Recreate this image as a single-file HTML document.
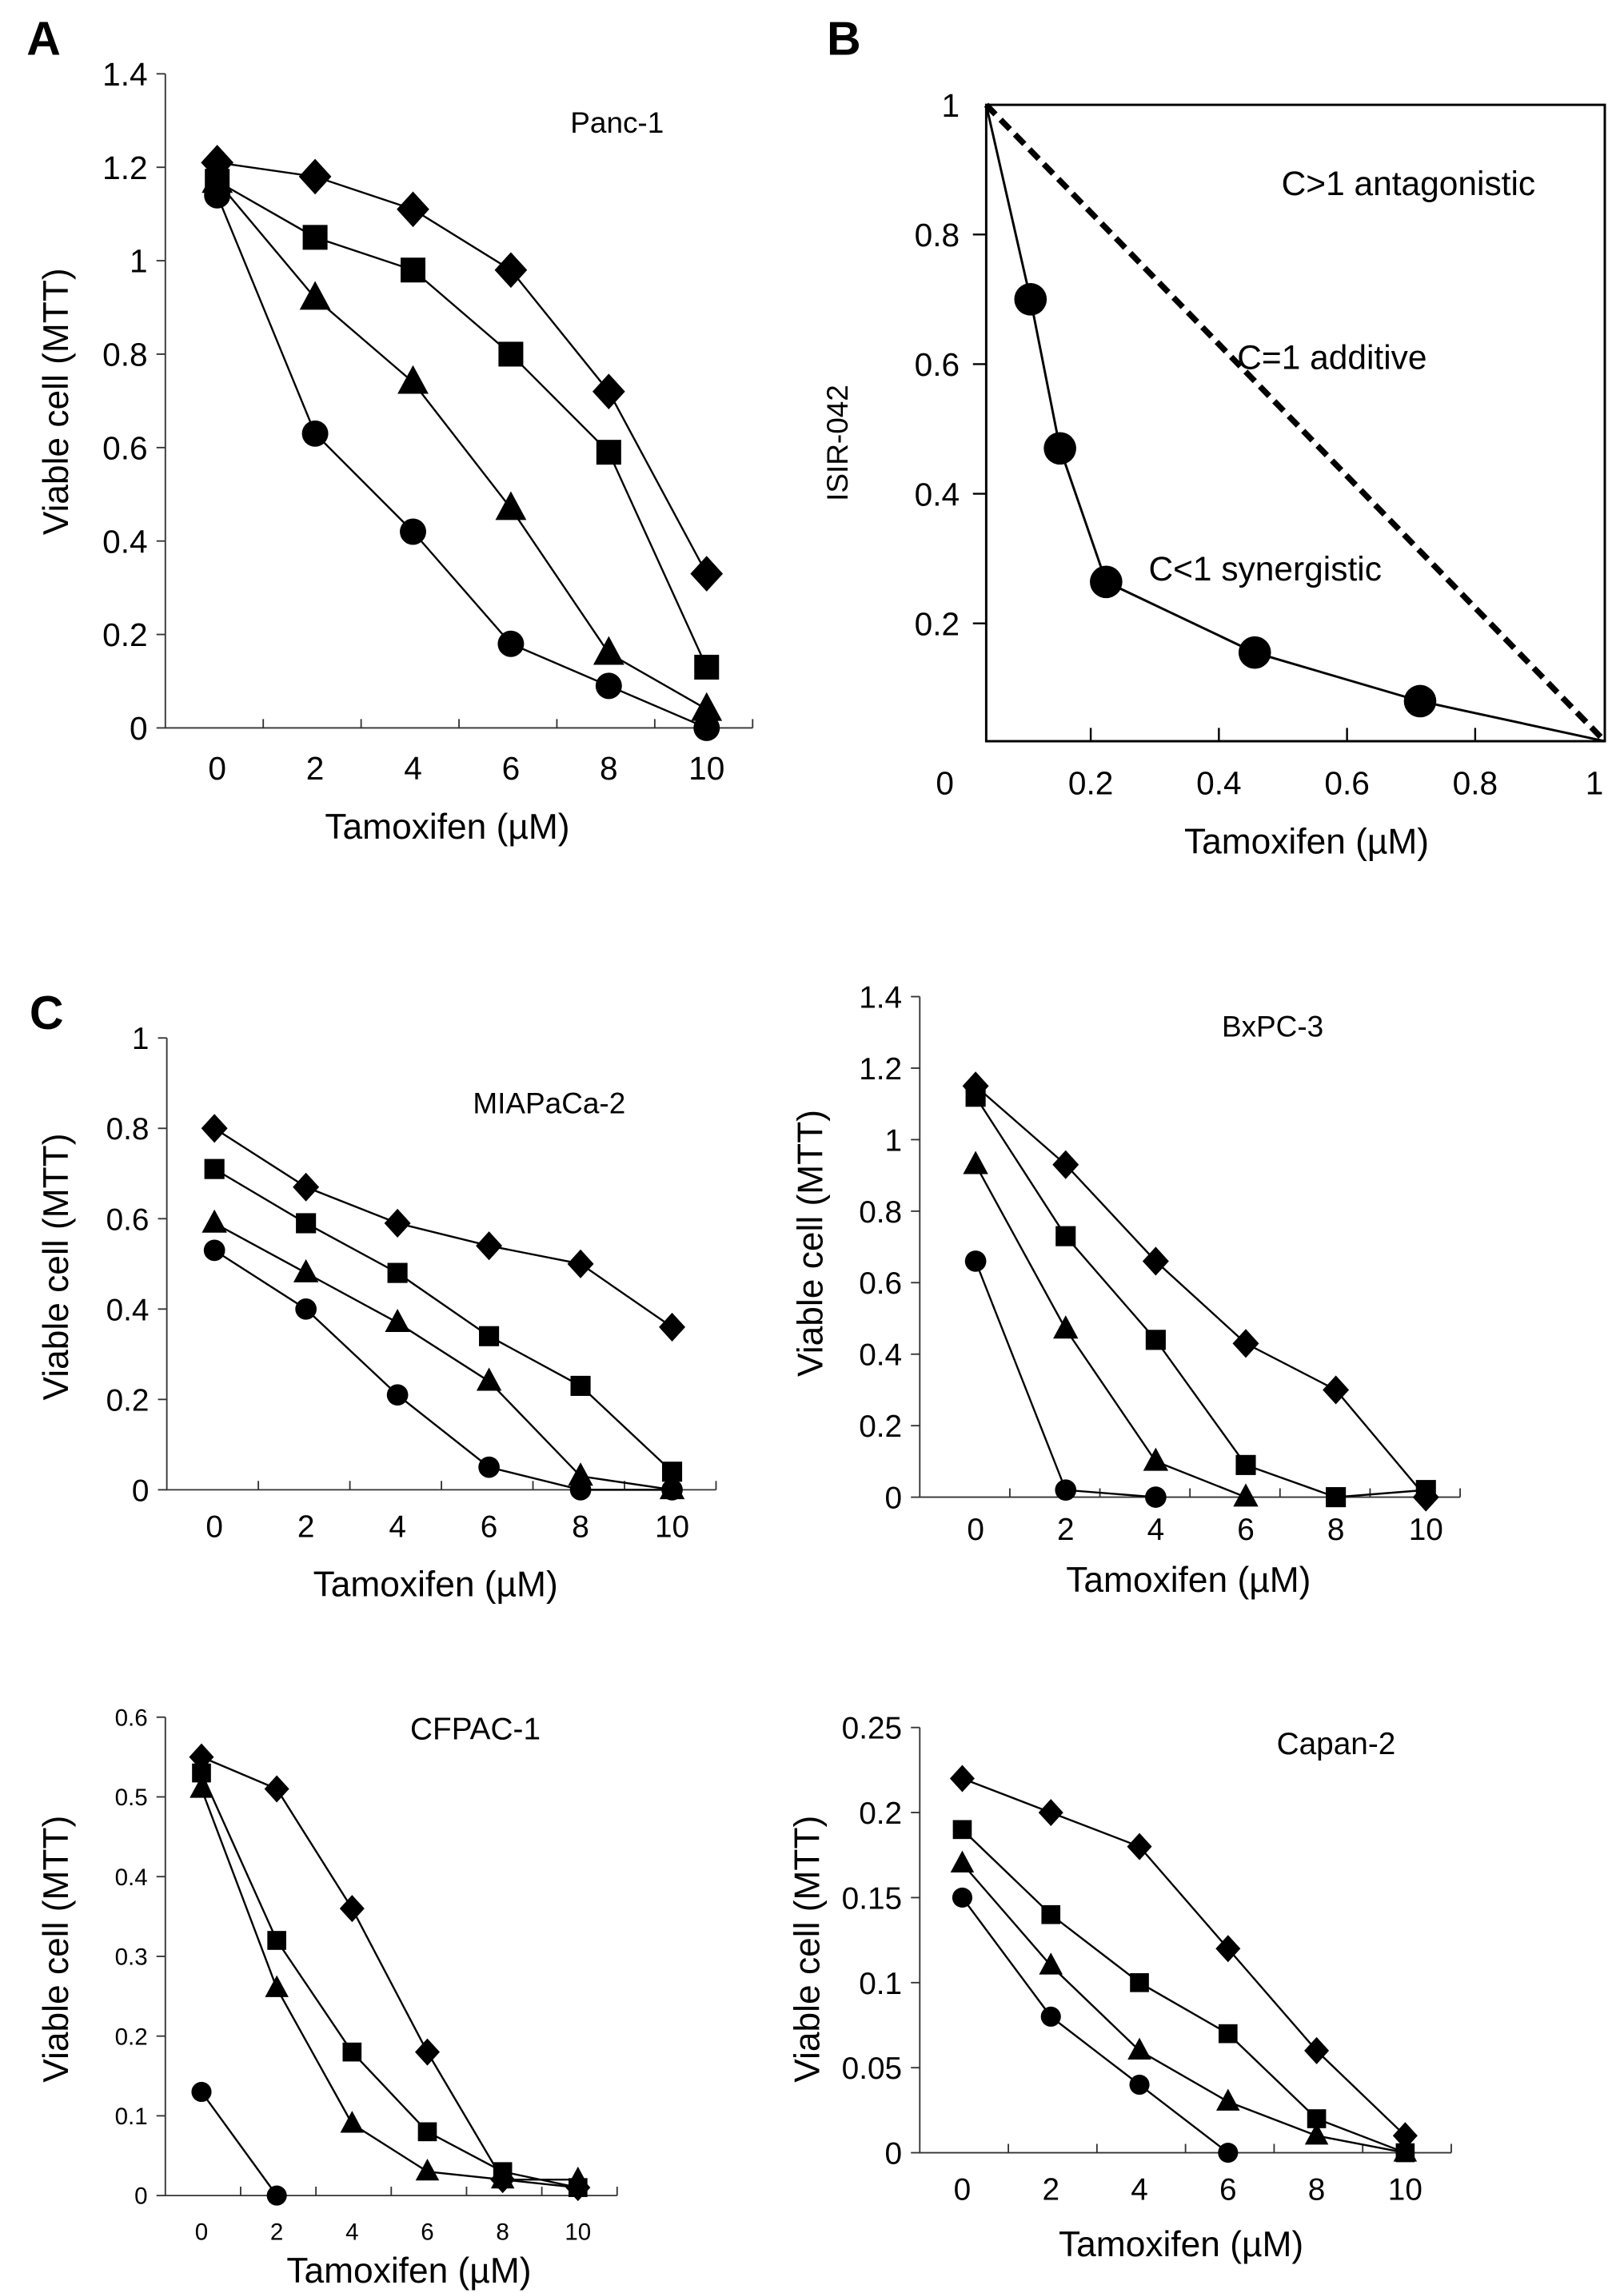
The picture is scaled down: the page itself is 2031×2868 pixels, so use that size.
<!DOCTYPE html>
<html><head><meta charset="utf-8">
<style>
html,body{margin:0;padding:0;background:#fff;}
svg{display:block;font-family:"Liberation Sans",sans-serif;}
</style></head>
<body>
<svg id="fig" width="2031" height="2868" viewBox="0 0 1100 1553" preserveAspectRatio="none" xmlns="http://www.w3.org/2000/svg">
<rect width="1100" height="1553" fill="#fff"/>
<text x="18" y="37" font-size="32" font-weight="bold">A</text>
<text x="560" y="37" font-size="32" font-weight="bold">B</text>
<text x="20" y="697" font-size="32" font-weight="bold">C</text>
</svg>
<script>
// x categories (Tamoxifen µM)
const doses = [0, 2, 4, 6, 8, 10];
// Panc-1
const pancDiamond = [1.21, 1.18, 1.11, 0.98, 0.72, 0.33];
const pancSquare = [1.17, 1.05, 0.98, 0.80, 0.59, 0.13];
const pancTriangle = [1.17, 0.92, 0.74, 0.47, 0.16, 0.04];
const pancCircle = [1.14, 0.63, 0.42, 0.18, 0.09, 0.0];
const pancTicks = [0, 0.2, 0.4, 0.6, 0.8, 1, 1.2, 1.4];
const pancTickLabels = ["0", "0.2", "0.4", "0.6", "0.8", "1", "1.2", "1.4"];
// MIAPaCa-2
const miaDiamond = [0.80, 0.67, 0.59, 0.54, 0.50, 0.36];
const miaSquare = [0.71, 0.59, 0.48, 0.34, 0.23, 0.04];
const miaTriangle = [0.59, 0.48, 0.37, 0.24, 0.03, 0.0];
const miaCircle = [0.53, 0.40, 0.21, 0.05, 0.0, 0.0];
const miaTicks = [0, 0.2, 0.4, 0.6, 0.8, 1];
const miaTickLabels = ["0", "0.2", "0.4", "0.6", "0.8", "1"];
// BxPC-3
const bxDiamond = [1.15, 0.93, 0.66, 0.43, 0.30, 0.0];
const bxSquare = [1.12, 0.73, 0.44, 0.09, 0.0, 0.02];
const bxTriangle = [0.93, 0.47, 0.10, 0.0, null, null];
const bxCircle = [0.66, 0.02, 0.0, null, null, null];
const bxTicks = [0, 0.2, 0.4, 0.6, 0.8, 1, 1.2, 1.4];
const bxTickLabels = ["0", "0.2", "0.4", "0.6", "0.8", "1", "1.2", "1.4"];
// CFPAC-1
const cfDiamond = [0.55, 0.51, 0.36, 0.18, 0.02, 0.01];
const cfSquare = [0.53, 0.32, 0.18, 0.08, 0.03, 0.01];
const cfTriangle = [0.51, 0.26, 0.09, 0.03, 0.02, 0.02];
const cfCircle = [0.13, 0.0, null, null, null, null];
const cfTicks = [0, 0.1, 0.2, 0.3, 0.4, 0.5, 0.6];
const cfTickLabels = ["0", "0.1", "0.2", "0.3", "0.4", "0.5", "0.6"];
// Capan-2
const capDiamond = [0.22, 0.20, 0.18, 0.12, 0.06, 0.01];
const capSquare = [0.19, 0.14, 0.10, 0.07, 0.02, 0.0];
const capTriangle = [0.17, 0.11, 0.06, 0.03, 0.01, 0.0];
const capCircle = [0.15, 0.08, 0.04, 0.0, null, null];
const capTicks = [0, 0.05, 0.1, 0.15, 0.2, 0.25];
const capTickLabels = ["0", "0.05", "0.1", "0.15", "0.2", "0.25"];
// Panel B isobologram
const isoTam = [0.106, 0.152, 0.224, 0.456, 0.714];
const isoIsir = [0.70, 0.47, 0.264, 0.155, 0.080];
const isoXTicks = [0.2, 0.4, 0.6, 0.8, 1];
const isoXLabels = ["0.2", "0.4", "0.6", "0.8", "1"];
const isoYTicks = [0.2, 0.4, 0.6, 0.8, 1];
const isoYLabels = ["0.2", "0.4", "0.6", "0.8", "1"];

const NS = "http://www.w3.org/2000/svg";
const svg = document.getElementById("fig");
function mk(tag, attrs, parent) {
  const e = document.createElementNS(NS, tag);
  for (const k in attrs) e.setAttribute(k, attrs[k]);
  (parent || svg).appendChild(e);
  return e;
}
function txt(parent, x, y, s, size, anchor, extra) {
  const t = mk("text", Object.assign({x: x, y: y, "font-size": size, "text-anchor": anchor || "middle"}, extra || {}), parent);
  t.textContent = s;
  return t;
}
function marker(g, shape, x, y, s) {
  let m;
  if (shape === "diamond") m = mk("polygon", {points: `${x},${y-s*1.15} ${x+s*1.05},${y} ${x},${y+s*1.15} ${x-s*1.05},${y}`, fill: "#000"}, g);
  else if (shape === "square") m = mk("rect", {x: x-s*0.8, y: y-s*0.8, width: s*1.6, height: s*1.6, fill: "#000"}, g);
  else if (shape === "triangle") m = mk("polygon", {points: `${x},${y-s*1.1} ${x+s},${y+s*0.75} ${x-s},${y+s*0.75}`, fill: "#000"}, g);
  else m = mk("circle", {cx: x, cy: y, r: s*0.85, fill: "#000"}, g);
  
  
}
function panel(cfg) {
  const g = mk("g", {});
  
  
  const ymax = cfg.ticks[cfg.ticks.length - 1];
  const y = v => cfg.y0 - (v / ymax) * (cfg.y0 - cfg.ytop);
  const x = i => cfg.x0 + (i + cfg.off) * cfg.slot;
  const xEnd = cfg.x0 + 6 * cfg.slot;
  const axes = mk("path", {d: `M${cfg.x0},${cfg.ytop} V${cfg.y0} H${xEnd}`, stroke: "#333", "stroke-width": 1, fill: "none"}, g);
  
  
  cfg.ticks.forEach((v, k) => {
    const tk = mk("line", {x1: cfg.x0 - 6, x2: cfg.x0, y1: y(v), y2: y(v), stroke: "#333"}, g);
    
    
    const lb = txt(g, cfg.x0 - 12, y(v) + cfg.fs * 0.36, cfg.labels[k], cfg.fs, "end");
    
    
  });
  for (let i = 1; i <= 6; i++) {
    const tk = mk("line", {x1: cfg.x0 + i * cfg.slot, x2: cfg.x0 + i * cfg.slot, y1: cfg.y0 - 6, y2: cfg.y0, stroke: "#333"}, g);
    
    
  }
  doses.forEach((d, i) => {
    const lb = txt(g, x(i), cfg.xl, String(d), cfg.fs, "middle");
    
    
  });
  const series = [["diamond", cfg.d], ["square", cfg.s], ["triangle", cfg.t], ["circle", cfg.c]];
  series.forEach(([shape, vals]) => {
    const pts = [];
    vals.forEach((v, i) => { if (v !== null) pts.push([x(i), y(v)]); });
    const ln = mk("polyline", {points: pts.map(p => p.join(",")).join(" "), fill: "none", stroke: "#000", "stroke-width": 1.3}, g);
    
    
    pts.forEach(p => marker(g, shape, p[0], p[1], cfg.ms));
  });
  const tt = txt(g, cfg.titleX, cfg.titleY, cfg.title, cfg.tfs, "middle");
  
  
  const xt = txt(g, cfg.xtX, cfg.xtY, "Tamoxifen (µM)", 24, "middle");
  
  
  const yt = txt(g, 0, 0, "Viable cell (MTT)", 24, "middle", {transform: `translate(${cfg.ytX},${cfg.ytY}) rotate(-90)`});
  
  
}

panel({name: "panc-1-chart", x0: 112, slot: 66.3, off: 0.53, y0: 493, ytop: 50, ticks: pancTicks, labels: pancTickLabels,
  d: pancDiamond, s: pancSquare, t: pancTriangle, c: pancCircle, fs: 22, xl: 528, ms: 10.5,
  title: "Panc-1", titleX: 418, titleY: 90, tfs: 20, xtX: 303, xtY: 568, ytX: 46, ytY: 272});
panel({name: "miapaca-2-chart", x0: 113, slot: 62, off: 0.52, y0: 1009, ytop: 703, ticks: miaTicks, labels: miaTickLabels,
  d: miaDiamond, s: miaSquare, t: miaTriangle, c: miaCircle, fs: 21, xl: 1041, ms: 8.5,
  title: "MIAPaCa-2", titleX: 372, titleY: 754, tfs: 20, xtX: 295, xtY: 1081, ytX: 46, ytY: 858});
panel({name: "bxpc-3-chart", x0: 623, slot: 61, off: 0.62, y0: 1014, ytop: 675, ticks: bxTicks, labels: bxTickLabels,
  d: bxDiamond, s: bxSquare, t: bxTriangle, c: bxCircle, fs: 21, xl: 1043, ms: 8.5,
  title: "BxPC-3", titleX: 862, titleY: 702, tfs: 20, xtX: 805, xtY: 1078, ytX: 557, ytY: 842});
panel({name: "cfpac-1-chart", x0: 112, slot: 51, off: 0.48, y0: 1487, ytop: 1163, ticks: cfTicks, labels: cfTickLabels,
  d: cfDiamond, s: cfSquare, t: cfTriangle, c: cfCircle, fs: 16, xl: 1517, ms: 8,
  title: "CFPAC-1", titleX: 322, titleY: 1178, tfs: 21, xtX: 277, xtY: 1546, ytX: 46, ytY: 1320});
panel({name: "capan-2-chart", x0: 623, slot: 60, off: 0.48, y0: 1458, ytop: 1170, ticks: capTicks, labels: capTickLabels,
  d: capDiamond, s: capSquare, t: capTriangle, c: capCircle, fs: 21, xl: 1490, ms: 8,
  title: "Capan-2", titleX: 905, titleY: 1188, tfs: 21, xtX: 800, xtY: 1528, ytX: 555, ytY: 1320});

// Panel B
(function () {
  const g = mk("g", {});
  
  
  const bx = v => 652 + 434 * v;
  const by = v => 510 - 439 * v;
  const L = 668, R = 1087, T = 71, B = 502;
  const box = mk("rect", {x: L, y: T, width: R - L, height: B - T, fill: "none", stroke: "#000", "stroke-width": 1.6}, g);
  
  
  isoYTicks.forEach((v, k) => {
    if (v < 1) {
      const tk = mk("line", {x1: L - 9, x2: L, y1: by(v), y2: by(v), stroke: "#000", "stroke-width": 1.3}, g);
      
      
    }
    const lb = txt(g, L - 18, (v === 1 ? T : by(v)) + 8, isoYLabels[k], 22, "end");
    
    
  });
  isoXTicks.forEach((v, k) => {
    if (v < 1) {
      const tk = mk("line", {x1: bx(v), x2: bx(v), y1: B - 9, y2: B, stroke: "#000", "stroke-width": 1.3}, g);
      
      
    }
    const lb = txt(g, v === 1 ? bx(v) - 6 : bx(v), 538, isoXLabels[k], 22, "middle");
    
    
  });
  const z = txt(g, 640, 538, "0", 22, "middle");
  
  
  const dash = mk("line", {x1: L, y1: T, x2: R, y2: B, stroke: "#000", "stroke-width": 4, "stroke-dasharray": "9,5"}, g);
  
  
  const pts = [[L, T]];
  isoTam.forEach((v, i) => pts.push([bx(v), by(isoIsir[i])]));
  pts.push([R, B]);
  const ln = mk("polyline", {points: pts.map(p => p.join(",")).join(" "), fill: "none", stroke: "#000", "stroke-width": 1.6}, g);
  
  
  isoTam.forEach((v, i) => {
    const c = mk("circle", {cx: bx(v), cy: by(isoIsir[i]), r: 11, fill: "#000"}, g);
    
    
  });
  const a1 = txt(g, 868, 132, "C>1 antagonistic", 23, "start");
  
  
  const a2 = txt(g, 838, 250, "C=1 additive", 23, "start");
  
  
  const a3 = txt(g, 778, 393, "C<1 synergistic", 23, "start");
  
  
  const xt = txt(g, 885, 578, "Tamoxifen (µM)", 24, "middle");
  
  
  const yt = txt(g, 0, 0, "ISIR-042", 20, "middle", {transform: "translate(574,300) rotate(-90)"});
  
  
})();
</script>
</body></html>
